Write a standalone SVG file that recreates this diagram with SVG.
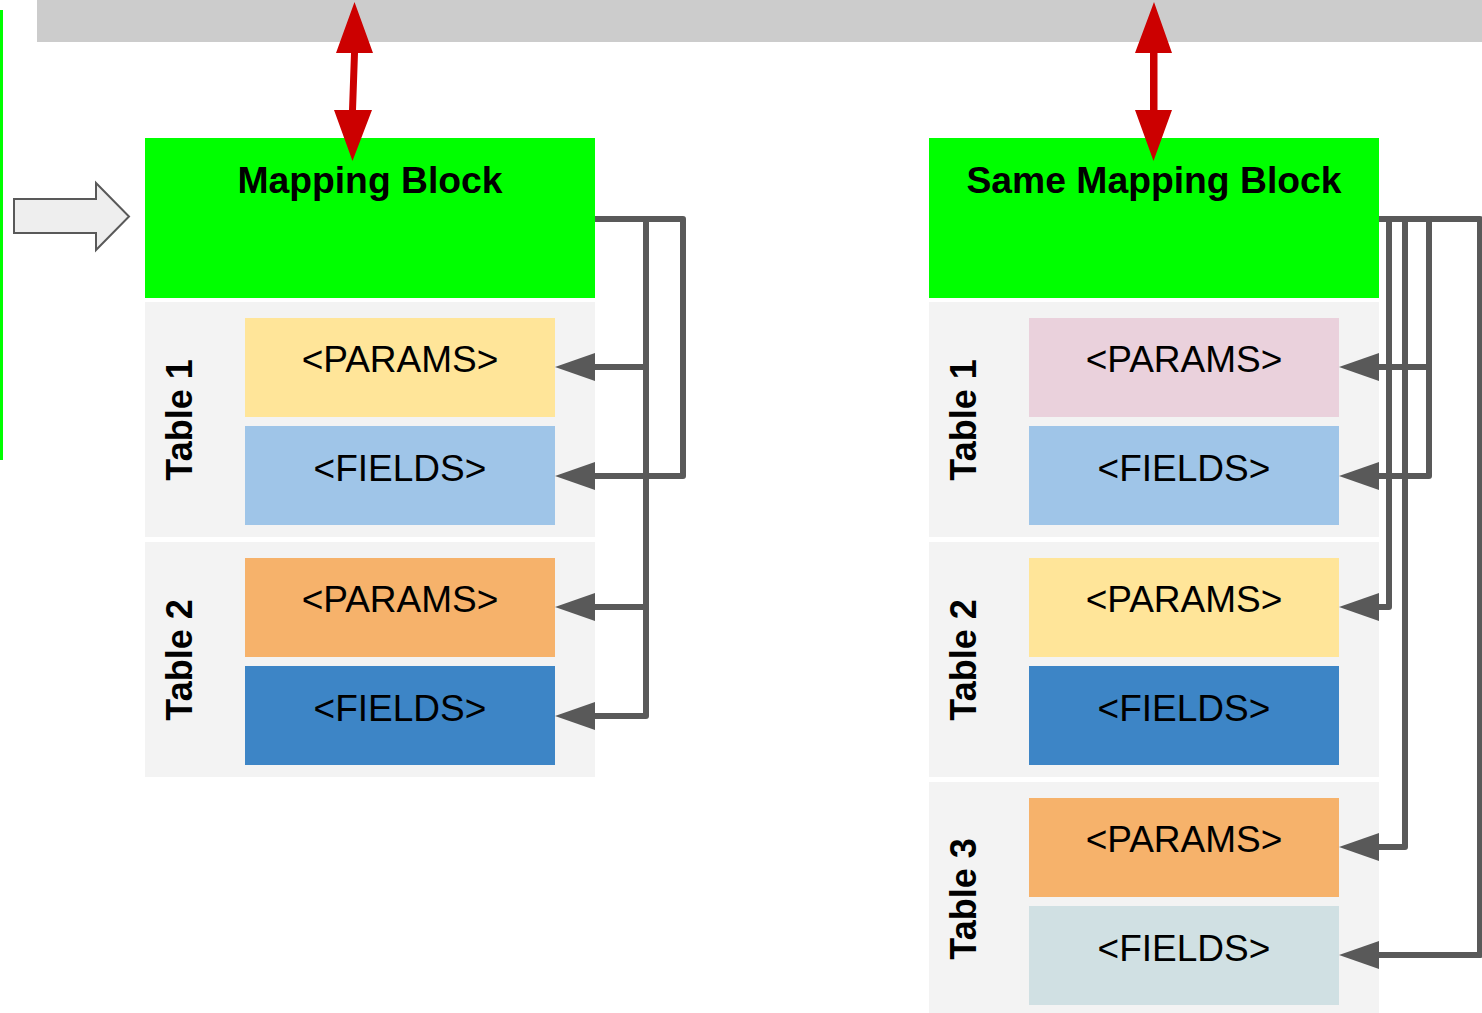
<svg xmlns="http://www.w3.org/2000/svg" width="1482" height="1013" viewBox="0 0 1482 1013">
  <defs>
    <style>
      .bar { fill: #cccccc; }
      .block { fill: #00ff00; }
      .panel { fill: #f3f3f3; }
      .title { font-family: "Liberation Sans", Arial, sans-serif; font-size: 37.3px; font-weight: bold; fill: #000000; text-anchor: middle; }
      .label { font-family: "Liberation Sans", Arial, sans-serif; font-size: 37px; fill: #000000; text-anchor: middle; }
      .tname { font-family: "Liberation Sans", Arial, sans-serif; font-size: 36px; font-weight: bold; fill: #000000; text-anchor: middle; }
      .link { fill: none; stroke: #595959; stroke-width: 6; stroke-linejoin: round; }
      .sync { fill: #cc0000; }
    </style>
    <marker id="head" markerUnits="userSpaceOnUse" viewBox="0 0 40 28" refX="0" refY="14" markerWidth="40" markerHeight="28" orient="auto">
      <path d="M0,0 L40,14 L0,28 z" fill="#595959"/>
    </marker>
  </defs>

  <rect width="1482" height="1013" fill="#ffffff"/>

  <!-- shared store bar -->
  <rect class="bar" x="37" y="0" width="1445" height="42"/>
  <!-- side marker line -->
  <rect x="0" y="10" width="3" height="450" fill="#00ff00"/>

  <!-- input arrow -->
  <g id="input-arrow">
    <path d="M14,199 H96 V183 L129,216.5 L96,250 V233 H14 z" fill="#eeeeee" stroke="#595959" stroke-width="2" stroke-linejoin="miter"/>
  </g>

  <!-- left mapping block and tables -->
  <g id="mapping-block">
    <rect class="block" x="145" y="138" width="450" height="160"/>
    <text class="title" x="370" y="193">Mapping Block</text>
  </g>
  <g id="left-table-1">
    <rect class="panel" x="145" y="302" width="450" height="235"/>
    <text class="tname" transform="translate(192,420) rotate(-90)">Table 1</text>
    <rect x="245" y="318" width="310" height="99" fill="#ffe599"/>
    <text class="label" x="400" y="372">&lt;PARAMS&gt;</text>
    <rect x="245" y="426" width="310" height="99" fill="#9fc5e8"/>
    <text class="label" x="400" y="481">&lt;FIELDS&gt;</text>
  </g>
  <g id="left-table-2">
    <rect class="panel" x="145" y="542" width="450" height="235"/>
    <text class="tname" transform="translate(192,660) rotate(-90)">Table 2</text>
    <rect x="245" y="558" width="310" height="99" fill="#f6b26b"/>
    <text class="label" x="400" y="612">&lt;PARAMS&gt;</text>
    <rect x="245" y="666" width="310" height="99" fill="#3d85c6"/>
    <text class="label" x="400" y="721">&lt;FIELDS&gt;</text>
  </g>

  <!-- right mapping block and tables -->
  <g id="same-mapping-block">
    <rect class="block" x="929" y="138" width="450" height="160"/>
    <text class="title" x="1154" y="193">Same Mapping Block</text>
  </g>
  <g id="right-table-1">
    <rect class="panel" x="929" y="302" width="450" height="235"/>
    <text class="tname" transform="translate(976,420) rotate(-90)">Table 1</text>
    <rect x="1029" y="318" width="310" height="99" fill="#ead1dc"/>
    <text class="label" x="1184" y="372">&lt;PARAMS&gt;</text>
    <rect x="1029" y="426" width="310" height="99" fill="#9fc5e8"/>
    <text class="label" x="1184" y="481">&lt;FIELDS&gt;</text>
  </g>
  <g id="right-table-2">
    <rect class="panel" x="929" y="542" width="450" height="235"/>
    <text class="tname" transform="translate(976,660) rotate(-90)">Table 2</text>
    <rect x="1029" y="558" width="310" height="99" fill="#ffe599"/>
    <text class="label" x="1184" y="612">&lt;PARAMS&gt;</text>
    <rect x="1029" y="666" width="310" height="99" fill="#3d85c6"/>
    <text class="label" x="1184" y="721">&lt;FIELDS&gt;</text>
  </g>
  <g id="right-table-3">
    <rect class="panel" x="929" y="782" width="450" height="231"/>
    <text class="tname" transform="translate(976,899) rotate(-90)">Table 3</text>
    <rect x="1029" y="798" width="310" height="99" fill="#f6b26b"/>
    <text class="label" x="1184" y="852">&lt;PARAMS&gt;</text>
    <rect x="1029" y="906" width="310" height="99" fill="#d0e0e3"/>
    <text class="label" x="1184" y="961">&lt;FIELDS&gt;</text>
  </g>

  <!-- connectors -->
  <g id="connectors">
    <!-- sync arrows between bar and blocks -->
    <path class="sync" d="M354.5,2 L373,53 L358,53 L356,110 L372,110 L352.5,161 L334,110 L349,110 L351,53 L336,53 z"/>
    <path class="sync" d="M1154,2 L1172,53 L1157.5,53 L1157.5,110 L1172,110 L1153.5,161 L1135,110 L1150,110 L1150,53 L1135,53 z"/>

    <!-- left block to its tables -->
    <path class="link" d="M595,219 H683 V476 H595" marker-end="url(#head)"/>
    <path class="link" d="M646,219 V716 H595" marker-end="url(#head)"/>
    <path class="link" d="M646,367 H595" marker-end="url(#head)"/>
    <path class="link" d="M646,607 H595" marker-end="url(#head)"/>

    <!-- right block to its tables -->
    <path class="link" d="M1379,219 H1480 V955 H1379" marker-end="url(#head)"/>
    <path class="link" d="M1379,219 H1429 V476 H1379" marker-end="url(#head)"/>
    <path class="link" d="M1429,367 H1379" marker-end="url(#head)"/>
    <path class="link" d="M1389,219 V607 H1379" marker-end="url(#head)"/>
    <path class="link" d="M1405,219 V847 H1379" marker-end="url(#head)"/>
  </g>
</svg>
